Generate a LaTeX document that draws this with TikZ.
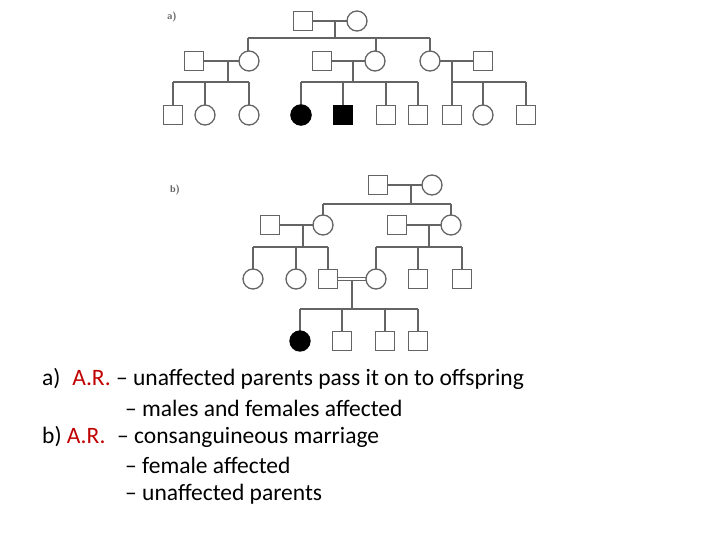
\documentclass[tikz,border=0pt]{standalone}
\usepackage{fontspec}
\setmainfont{Carlito}
\definecolor{ln}{RGB}{100,100,100}
\definecolor{arred}{RGB}{192,0,0}
\begin{document}
\begin{tikzpicture}[x=1pt,y=-1pt,
  sq/.style={draw=ln,line width=1.3pt,minimum size=19pt,inner sep=0pt,fill=white},
  ci/.style={draw=ln,line width=1.3pt,circle,minimum size=20pt,inner sep=0pt,fill=white},
  aff/.style={fill=black,draw=black},
  ped/.style={draw=ln,line width=1.3pt},
  lab/.style={font=\sffamily\bfseries\fontsize{10}{11}\selectfont,text=ln},
  txt/.style={anchor=west,inner sep=0pt,font=\fontsize{23.5}{26}\selectfont}]
\useasboundingbox (0,0) rectangle (720,540);
% ---------- pedigree a
\node[lab] (la) at (172,17) {a)};
\coordinate (am) at (335,21); \coordinate (amd) at (335,38);
\coordinate (s1l) at (248,38); \coordinate (s1r) at (430,38); \coordinate (s1m) at (376,38);
\draw[ped] (303,21) -- (357,21);
\draw[ped] (am) -- (amd);
\draw[ped] (s1l) -- (s1r);
\draw[ped] (s1l) -- (248,61); \draw[ped] (s1m) -- (376,61); \draw[ped] (s1r) -- (430,61);
\draw[ped] (194,61) -- (249,61) (322,61) -- (375,61) (430,61) -- (483,61);
\draw[ped] (228,61) -- (228,82) (173,82) -- (249,82);
\draw[ped] (353,61) -- (353,82) (301,82) -- (418,82);
\draw[ped] (452,61) -- (452,82) (452,82) -- (526,82);
\foreach \x in {173,205,249,301,343,386,418,452,483,526}
  \draw[ped] (\x,82) -- (\x,115);
\node[sq] (a1) at (303,21) {};
\node[ci] (a2) at (357,21) {};
\node[sq] (b1) at (194,61) {};
\node[ci] (b2) at (249,61) {};
\node[sq] (b3) at (322,61) {};
\node[ci] (b4) at (375,61) {};
\node[ci] (b5) at (430,61) {};
\node[sq] (b6) at (483,61) {};
\foreach \x/\n/\t in {173/c1/sq,205/c2/ci,249/c3/ci,301/c4/ci,343/c5/sq,386/c6/sq,418/c7/sq,452/c8/sq,483/c9/ci,526/c10/sq}
  \node[\t] (\n) at (\x,115) {};
\node[ci,aff] at (c4) {};
\node[sq,aff] at (c5) {};
% ---------- pedigree b
\node[lab] (lb) at (175,190) {b)};
\draw[ped] (378,185) -- (432,185);
\draw[ped] (411,185) -- (411,204) (323,204) -- (451,204) (323,204) -- (323,225) (451,204) -- (451,225);
\draw[ped] (270,225) -- (323,225) (397,225) -- (451,225);
\draw[ped] (303,225) -- (303,247) (253,247) -- (328,247);
\draw[ped] (429,225) -- (429,247) (376,247) -- (462,247);
\foreach \x in {253,296,328,376,418,462} \draw[ped] (\x,247) -- (\x,279);
\draw[ped] (328,277.3) -- (376,277.3) (328,280.7) -- (376,280.7);
\draw[ped] (352,280.7) -- (352,309) (300,309) -- (418,309);
\foreach \x in {300,342,385,418} \draw[ped] (\x,309) -- (\x,341);
\node[sq] (p1) at (378,185) {};
\node[ci] (p2) at (432,185) {};
\node[sq] (q1) at (270,225) {};
\node[ci] (q2) at (323,225) {};
\node[sq] (q3) at (397,225) {};
\node[ci] (q4) at (451,225) {};
\node[ci] (r1) at (253,279) {};
\node[ci] (r2) at (296,279) {};
\node[sq] (r3) at (328,279) {};
\node[ci] (r4) at (376,279) {};
\node[sq] (r5) at (418,279) {};
\node[sq] (r6) at (462,279) {};
\node[ci,aff] (t1) at (300,341) {};
\node[sq] (t2) at (342,341) {};
\node[sq] (t3) at (385,341) {};
\node[sq] (t4) at (418,341) {};
% ---------- text
\node[txt] (x1) at (42,379) {a)\enspace{\color{arred}A.R.} – unaffected parents pass it on to offspring};
\node[txt] (x2) at (125,408) {– males and females affected};
\node[txt] (x3) at (42,437) {b) {\color{arred}A.R.}\enspace – consanguineous marriage};
\node[txt] (x4) at (125,465) {– female affected};
\node[txt] (x5) at (125,494) {– unaffected parents};
\end{tikzpicture}
\end{document}
